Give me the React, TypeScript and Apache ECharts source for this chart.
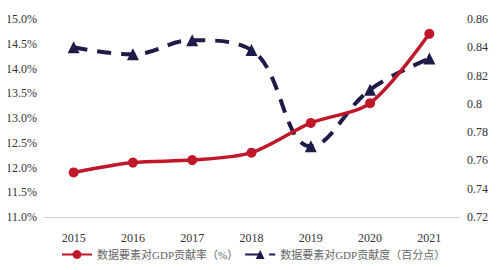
import React, { useEffect, useRef } from "react";
import * as echarts from "echarts";

const years = ["2015", "2016", "2017", "2018", "2019", "2020", "2021"];
const contributionRate = [11.9, 12.1, 12.15, 12.3, 12.9, 13.3, 14.7];
const contributionDegree = [0.84, 0.835, 0.845, 0.838, 0.77, 0.81, 0.832];
const seriesNames = ["数据要素对GDP贡献率（%）", "数据要素对GDP贡献度（百分点）"];

const FONT = "'Liberation Serif', 'Noto Sans CJK SC', serif";

export default function App() {
  const ref = useRef<HTMLDivElement>(null);
  useEffect(() => {
    if (!ref.current) return;
    const chart = echarts.init(ref.current, undefined, { renderer: "svg" });
    chart.setOption({
      animation: false,
      textStyle: { fontFamily: FONT },
      grid: { left: 44, right: 41, top: 19, bottom: 53 },
      legend: {
        bottom: 5,
        left: 56,
        itemGap: 6,
        itemWidth: 30,
        itemHeight: 11,
        textStyle: { fontFamily: FONT, fontSize: 11, color: "#666" },
        data: seriesNames,
      },
      xAxis: {
        type: "category",
        data: years,
        boundaryGap: true,
        axisLine: { lineStyle: { color: "#d0d0d0", width: 1 } },
        axisTick: { show: false },
        axisLabel: { color: "#333", fontSize: 12, fontFamily: FONT, margin: 15 },
      },
      yAxis: [
        {
          type: "value",
          min: 11,
          max: 15,
          interval: 0.5,
          splitLine: { show: false },
          axisLine: { show: false },
          axisTick: { show: false },
          axisLabel: {
            color: "#333",
            fontSize: 12,
            fontFamily: FONT,
            margin: 7,
            formatter: (v: number) => v.toFixed(1) + "%",
          },
        },
        {
          type: "value",
          min: 0.72,
          max: 0.86,
          interval: 0.02,
          splitLine: { show: false },
          axisLine: { show: false },
          axisTick: { show: false },
          axisLabel: {
            color: "#333",
            fontSize: 12,
            fontFamily: FONT,
            margin: 8,
            formatter: (v: number) => {
              const s = v.toFixed(2);
              return s === "0.80" ? "0.8" : s;
            },
          },
        },
      ],
      series: [
        {
          name: seriesNames[0],
          type: "line",
          yAxisIndex: 0,
          data: contributionRate,
          smooth: 0.3,
          symbol: "circle",
          symbolSize: 10,
          lineStyle: { color: "#c0172b", width: 3.5 },
          itemStyle: { color: "#c0172b" },
          z: 3,
        },
        {
          name: seriesNames[1],
          type: "line",
          yAxisIndex: 1,
          data: contributionDegree,
          smooth: 0.4,
          symbol: "triangle",
          symbolSize: 12,
          lineStyle: { color: "#1e1b48", width: 4, type: [14, 10] },
          itemStyle: { color: "#1e1b48" },
          z: 2,
        },
      ],
    });
    return () => chart.dispose();
  }, []);
  return <div ref={ref} style={{ width: 500, height: 270, margin: -8 }} />;
}
